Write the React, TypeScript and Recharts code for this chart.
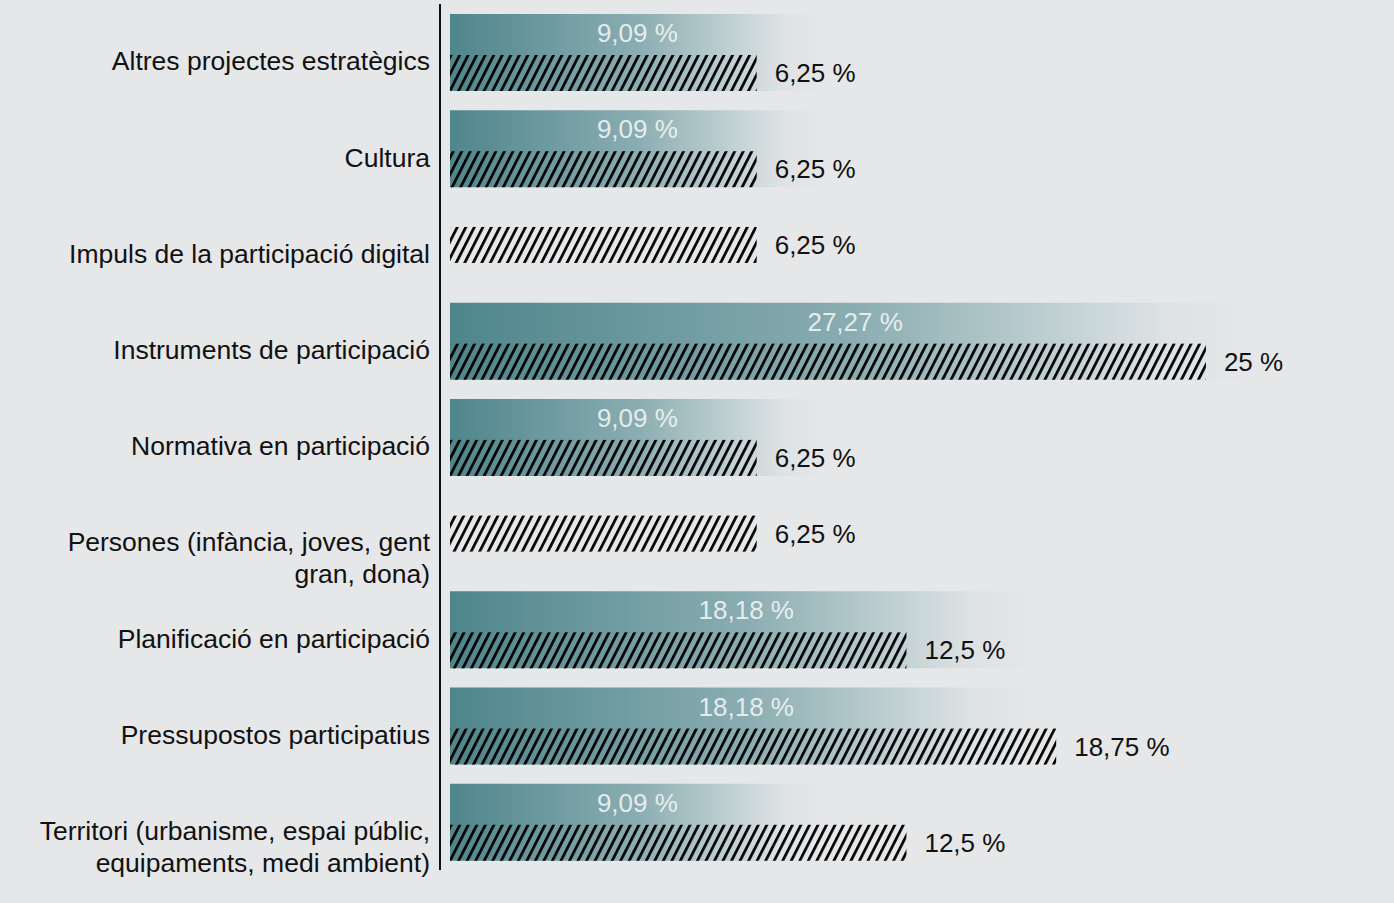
import { useEffect } from "react";
import { BarChart, Bar, XAxis, YAxis, LabelList } from "recharts";

const categories = [
  "Altres projectes estratègics",
  "Cultura",
  "Impuls de la participació digital",
  "Instruments de participació",
  "Normativa en participació",
  "Persones (infància, joves, gent\ngran, dona)",
  "Planificació en participació",
  "Pressupostos participatius",
  "Territori (urbanisme, espai públic,\nequipaments, medi ambient)",
];

// gradient series (null = no bar in that row)
const gradientValues: (number | null)[] = [9.09, 9.09, null, 27.27, 9.09, null, 18.18, 18.18, 9.09];
// hatched series
const hatchValues = [6.25, 6.25, 6.25, 25, 6.25, 6.25, 12.5, 18.75, 12.5];

const AXIS_MIN = -6.55;
const AXIS_MAX = 32.85;
const GRAD_SIZE = 77;
const HATCH_SIZE = 36;
const FONT = '"Liberation Sans", Arial, sans-serif';
const BG = "#e6e7e9";

const data = categories.map((name, i) => ({
  name,
  grad: gradientValues[i],
  hatch: hatchValues[i],
}));

const fmt = (v: number) => `${String(v).replace(".", ",")} %`;
const soloShift = (i: number) => (gradientValues[i] == null ? -(GRAD_SIZE - HATCH_SIZE) / 2 : 0);
const endValue = (value: any) => (Array.isArray(value) ? value[1] : value);

function CategoryTick(props: any) {
  const { x, y, payload } = props;
  const lines = String(payload.value).split("\n");
  return (
    <text x={x - 2} y={y + 9} textAnchor="end" fill="#111" fontSize={26.5} fontFamily={FONT}>
      {lines.map((line, i) => (
        <tspan key={i} x={x - 2} dy={i === 0 ? "0.35em" : 32}>
          {line}
        </tspan>
      ))}
    </text>
  );
}

function HatchShape(props: any) {
  const { x, y, width, height, index } = props;
  if (!width || width <= 0) return null;
  return <rect x={x} y={y + soloShift(index)} width={width} height={height} fill="url(#hatch)" />;
}

function GradLabel(props: any) {
  const { x, y, width, value } = props;
  const v = endValue(value);
  if (v == null || v <= AXIS_MIN || !width) return null;
  return (
    <text
      x={x + width / 2}
      y={y + 19}
      textAnchor="middle"
      dominantBaseline="central"
      fill="#f2f5f5"
      fillOpacity={0.9}
      fontSize={26}
      fontFamily={FONT}
    >
      {fmt(v)}
    </text>
  );
}

function HatchLabel(props: any) {
  const { x, y, width, height, index, value } = props;
  const v = endValue(value);
  return (
    <text
      x={x + width + 18}
      y={y + height / 2 + soloShift(index)}
      dominantBaseline="central"
      fill="#111"
      fontSize={26}
      fontFamily={FONT}
    >
      {fmt(v)}
    </text>
  );
}

export default function App() {
  useEffect(() => {
    document.body.style.margin = "0";
    document.body.style.background = BG;
  }, []);

  return (
    <div style={{ width: 1394, height: 903, background: BG }}>
      <BarChart
        width={1394}
        height={903}
        data={data}
        layout="vertical"
        margin={{ top: 4, right: 0, left: 0, bottom: 33 }}
        barGap={-HATCH_SIZE}
      >
        <defs>
          <linearGradient id="teal" x1="0" y1="0" x2="1" y2="0">
            <stop offset="0" stopColor="#4e868c" />
            <stop offset="0.5" stopColor="#8aadb1" />
            <stop offset="0.88" stopColor="#dde2e4" />
            <stop offset="1" stopColor={BG} />
          </linearGradient>
          <pattern id="hatch" patternUnits="userSpaceOnUse" width="7.6" height="8" patternTransform="rotate(27)">
            <rect x="0" y="0" width="2.7" height="8" fill="#000" />
          </pattern>
        </defs>
        <XAxis type="number" hide domain={[AXIS_MIN, AXIS_MAX]} allowDataOverflow padding={{ left: 10 }} />
        <YAxis
          type="category"
          dataKey="name"
          width={440}
          interval={0}
          tickLine={false}
          axisLine={{ stroke: "#111", strokeWidth: 2 }}
          tick={<CategoryTick />}
        />
        <Bar
          dataKey={(d: any) => [AXIS_MIN, d.grad == null ? AXIS_MIN : d.grad]}
          barSize={GRAD_SIZE}
          fill="url(#teal)"
          isAnimationActive={false}
        >
          <LabelList content={<GradLabel />} />
        </Bar>
        <Bar
          dataKey={(d: any) => [AXIS_MIN, d.hatch]}
          barSize={HATCH_SIZE}
          shape={<HatchShape />}
          isAnimationActive={false}
        >
          <LabelList content={<HatchLabel />} />
        </Bar>
      </BarChart>
    </div>
  );
}
